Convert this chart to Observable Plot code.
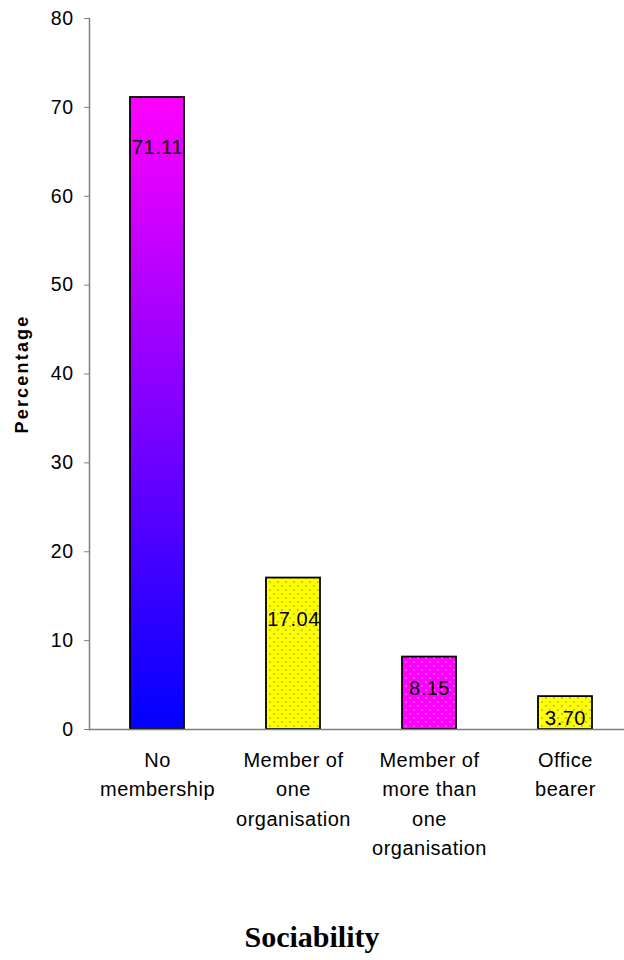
<!DOCTYPE html>
<html>
<head>
<meta charset="utf-8">
<script src="https://cdn.jsdelivr.net/npm/d3@7"></script>
<script src="https://cdn.jsdelivr.net/npm/@observablehq/plot@0.6"></script>
<style>
  body { margin: 0; background: #fff; }
  #chart { position: relative; width: 624px; height: 960px; }
  #chart svg { font-family: "Liberation Sans", Arial, sans-serif; }
  #chart svg text { letter-spacing: 0.5px; }
  #title {
    position: absolute; left: 0; top: 920px; width: 624px;
    text-align: center; line-height: 30px;
    font: bold 30px "Liberation Serif", "Times New Roman", serif;
    color: #000;
  }
</style>
</head>
<body>
<div id="chart"></div>
<script>
// Sociability: share of respondents by organisational membership
const categories = [
  "No\nmembership",
  "Member of\none\norganisation",
  "Member of\nmore than\none\norganisation",
  "Office\nbearer"
];
const values = [71.11, 17.04, 8.15, 3.70];
const yTicks = [0, 10, 20, 30, 40, 50, 60, 70, 80];

// fill style per bar and how far each value label sits below its bar top
const barFills = ["url(#grad-magenta-blue)", "url(#dots-yellow)", "url(#dots-magenta)", "url(#dots-yellow)"];
const labelDrop = [50, 42, 32, 22];

const rows = categories.map((c, i) => ({category: c, value: values[i], fill: barFills[i]}));

const plot = Plot.plot({
  width: 624,
  height: 880,
  marginLeft: 89,
  marginRight: 0,
  marginTop: 18,
  marginBottom: 151,
  style: {background: "#fff", color: "#000"},
  x: {domain: categories, range: [89, 633], paddingInner: 0.6, paddingOuter: 0.3},
  y: {domain: [0, 80]},
  color: {type: "identity"},
  marks: [
    Plot.barY(rows, {x: "category", y: "value", fill: "fill", stroke: "#000", strokeWidth: 1.8}),
    ...rows.map((d, i) => Plot.text([d], {
      x: "category", y: "value", text: (r) => r.value.toFixed(2),
      dy: labelDrop[i], fontSize: 20, fill: "#000"
    })),
    Plot.ruleY([0], {stroke: "#808080", strokeWidth: 1.5}),
    Plot.frame({anchor: "left", stroke: "#808080", strokeWidth: 1.5}),
    Plot.axisY({ticks: yTicks, tickSize: 5, tickPadding: 11, fontSize: 19.5, stroke: "#808080", fill: "#000", label: null}),
    Plot.axisX({tickSize: 0, tickPadding: 17, fontSize: 20, lineHeight: 1.46, fill: "#000", label: null}),
    Plot.text(["Percentage"], {frameAnchor: "left", textAnchor: "middle", dx: -67, rotate: -90, fontWeight: "bold", fontSize: 18, fill: "#000"})
  ]
});

// gradient and dotted pattern fills referenced by the bars
d3.select(plot).insert("defs", ":first-child").html(`
  <linearGradient id="grad-magenta-blue" x1="0" y1="0" x2="0" y2="1">
    <stop offset="0" stop-color="#ff00ff"/>
    <stop offset="1" stop-color="#0000ff"/>
  </linearGradient>
  <pattern id="dots-yellow" patternUnits="userSpaceOnUse" width="8" height="8">
    <rect width="8" height="8" fill="#ffff00"/>
    <circle cx="2" cy="2" r="0.8" fill="#8c8c3a"/>
    <circle cx="6" cy="6" r="0.8" fill="#8c8c3a"/>
  </pattern>
  <pattern id="dots-magenta" patternUnits="userSpaceOnUse" width="8" height="8">
    <rect width="8" height="8" fill="#ff00ff"/>
    <circle cx="2" cy="2" r="0.8" fill="#ffa8ff"/>
    <circle cx="6" cy="6" r="0.8" fill="#ffa8ff"/>
  </pattern>
`);

// the rotated axis title is set with wider tracking
d3.select(plot).selectAll("text")
  .filter(function () { return this.textContent === "Percentage"; })
  .style("letter-spacing", "2.2px");

const chart = document.getElementById("chart");
chart.appendChild(plot);
const title = document.createElement("div");
title.id = "title";
title.textContent = "Sociability";
chart.appendChild(title);
</script>
</body>
</html>
